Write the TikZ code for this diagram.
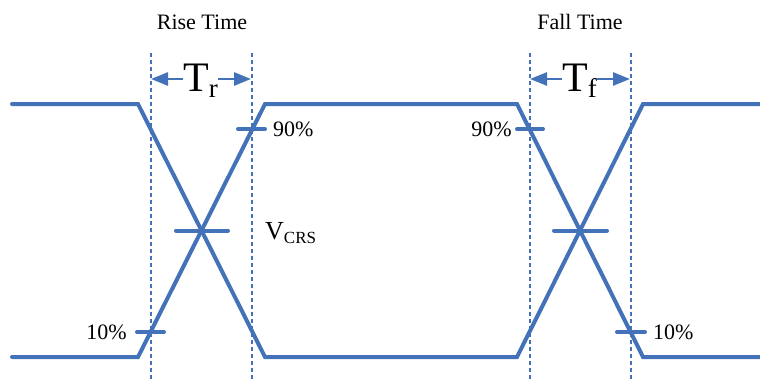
\documentclass[tikz,border=0pt]{standalone}
\usepackage{fontspec}
\setmainfont{Liberation Serif}
\usetikzlibrary{arrows.meta}

\definecolor{wblue}{RGB}{68,114,184}

\tikzset{
  wave/.style={draw=wblue, line width=4pt, line cap=round, line join=miter},
  tick/.style={draw=wblue, line width=4pt, line cap=round},
  guide/.style={draw=wblue, line width=2pt, dash pattern=on 4pt off 3pt},
  span/.style={draw=wblue, line width=2.6pt, -{Triangle[length=17pt,width=13pt]}},
  lbl/.style={inner sep=0pt, font=\fontsize{22}{26}\selectfont}
}

\begin{document}
\begin{tikzpicture}[x=1pt,y=-1pt]

\useasboundingbox (0,0) rectangle (760,380);

% corners of the two waveforms
\coordinate (a0) at (12,104);
\coordinate (a1) at (138,104);
\coordinate (a2) at (265,357);
\coordinate (a3) at (517,357);
\coordinate (a4) at (643,104);
\coordinate (a5) at (762,104);

\coordinate (b0) at (12,357);
\coordinate (b1) at (138,357);
\coordinate (b2) at (265,104);
\coordinate (b3) at (517,104);
\coordinate (b4) at (643,357);
\coordinate (b5) at (762,357);

% 10% / 90% guides
\foreach \x in {151,252,530,631}
    \draw [guide] (\x,53) -- (\x,380);

\draw [wave] (a0) -- (a1) -- (a2) -- (a3) -- (a4) -- (a5);
\draw [wave] (b0) -- (b1) -- (b2) -- (b3) -- (b4) -- (b5);

% level marks
\foreach \x/\y/\w in {251.5/129/13.5, 150.5/332/13.5, 202/230.5/26,
                      530/129/13, 631/332/14, 580.5/230.5/26.5}
    \draw [tick] (\x-\w,\y) -- (\x+\w,\y);

\node [lbl, anchor=west] (p90a) at (273,129) {90\%};
\node [lbl, anchor=east] (p10a) at (127,332) {10\%};
\node [lbl, anchor=east] (p90b) at (512,129) {90\%};
\node [lbl, anchor=west] (p10b) at (653,332) {10\%};

\node [anchor=base west, inner sep=0pt] (vcrs) at (265,239)
    {\fontsize{26}{26}\selectfont V\raisebox{-4pt}{\fontsize{17}{17}\selectfont CRS}};

\node [lbl] (rise) at (202,22) {Rise Time};
\node [lbl] (fall) at (580,22) {Fall Time};

\node [anchor=base, inner sep=0pt] (tr) at (200.5,91)
    {\fontsize{42}{42}\selectfont T\raisebox{-6pt}{\fontsize{27}{27}\selectfont r}};
\node [anchor=base, inner sep=0pt] (tf) at (579.5,91)
    {\fontsize{42}{42}\selectfont T\raisebox{-6pt}{\fontsize{27}{27}\selectfont f}};

\coordinate (trl) at (151,79);
\coordinate (trr) at (251,79);
\coordinate (tfl) at (530,79);
\coordinate (tfr) at (630,79);

\draw [span] (tr.west |- trl) -- (trl);
\draw [span] (tr.east |- trr) -- (trr);
\draw [span] (tf.west |- tfl) -- (tfl);
\draw [span] (tf.east |- tfr) -- (tfr);

\end{tikzpicture}
\end{document}
